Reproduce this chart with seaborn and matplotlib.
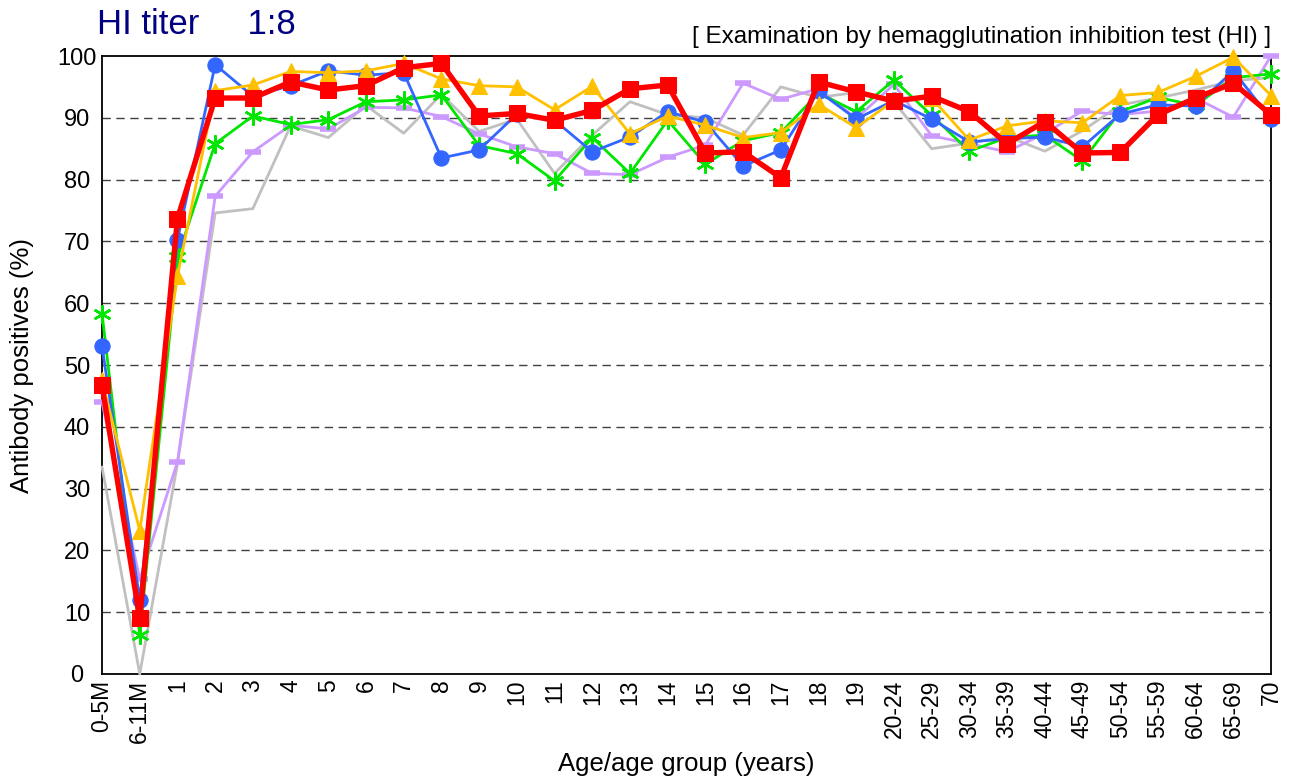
import numpy as np
import pandas as pd
import matplotlib
matplotlib.use('Agg')
import matplotlib.pyplot as plt
import seaborn as sns

# Age groups on the x axis
age_groups = ['0-5M', '6-11M', '1', '2', '3', '4', '5', '6', '7', '8', '9', '10',
              '11', '12', '13', '14', '15', '16', '17', '18', '19', '20-24', '25-29',
              '30-34', '35-39', '40-44', '45-49', '50-54', '55-59', '60-64', '65-69', '70']

# Antibody positive rates (%) per season
gray_vals = [33.5, 0, 34, 74.6, 75.3, 88.7, 86.8, 92.0, 87.5, 93.8, 87.8, 89.8,
             81.0, 87.2, 92.6, 90.5, 90.0, 87.2, 95.0, 93.3, 94.1, 92.6, 85.0,
             85.9, 87.0, 84.6, 87.9, 92.1, 93.2, 94.5, 96.0, 96.5]
lavender_vals = [44.0, 15.3, 34.3, 77.3, 84.5, 88.8, 88.2, 91.7, 91.6, 90.2, 87.4, 85.3,
                 84.2, 81.0, 80.8, 83.6, 85.6, 95.6, 93.0, 94.7, 89.9, 95.4, 87.1,
                 85.8, 84.5, 87.5, 91.1, 90.5, 91.1, 93.2, 90.1, 100.0]
green_vals = [58.3, 6.3, 67.4, 85.8, 90.3, 88.9, 89.7, 92.6, 92.9, 93.7, 85.5, 84.2,
              79.8, 86.8, 81.0, 89.6, 82.5, 86.3, 87.6, 94.0, 91.0, 96.1, 90.4,
              84.6, 86.8, 87.2, 83.0, 91.0, 93.3, 92.0, 96.5, 97.1]
blue_vals = [53.0, 12.0, 70.2, 98.6, 93.5, 95.2, 97.6, 96.9, 97.3, 83.5, 84.8, 90.6,
             89.6, 84.5, 86.9, 91.0, 89.3, 82.2, 84.8, 94.3, 89.8, 92.8, 89.8,
             86.1, 86.6, 86.9, 85.3, 90.6, 92.1, 91.9, 97.6, 89.8]
orange_vals = [47.5, 23.2, 64.4, 94.4, 95.3, 97.5, 97.3, 97.6, 98.8, 96.3, 95.2, 95.0,
               91.3, 95.1, 87.4, 90.3, 88.8, 86.8, 87.6, 92.2, 88.4, 92.8, 93.2,
               86.4, 88.7, 89.5, 89.2, 93.6, 94.1, 96.7, 99.8, 93.6]
red_vals = [46.7, 9.0, 73.7, 93.2, 93.2, 95.8, 94.5, 95.2, 98.1, 98.8, 90.3, 90.7,
            89.6, 91.2, 94.7, 95.3, 84.3, 84.5, 80.3, 95.8, 94.2, 92.7, 93.5,
            91.0, 85.8, 89.4, 84.3, 84.4, 90.5, 93.2, 95.6, 90.5]

sns.set_style('white')
plt.rcParams['font.family'] = ['Liberation Sans', 'DejaVu Sans']
plt.rcParams['text.color'] = 'black'
plt.rcParams['xtick.color'] = 'black'
plt.rcParams['ytick.color'] = 'black'
plt.rcParams['axes.labelcolor'] = 'black'

fig = plt.figure(figsize=(12.9, 7.8), dpi=100)
ax = fig.add_axes([0.0791, 0.1359, 0.9062, 0.7923])

pos = np.arange(len(age_groups))

# (values, color, marker, markersize, linewidth, extra kwargs)
series = [
    (gray_vals, '#C0C0C0', None, 0, 2.0, {}),
    (lavender_vals, '#CC99FF', '_', 12, 2.0, {'markeredgewidth': 4}),
    (green_vals, '#00E600', (6, 2, 0), 13, 2.0, {'markeredgewidth': 1.8}),
    (blue_vals, '#3366FF', 'o', 11, 2.0, {}),
    (orange_vals, '#FFC000', '^', 12, 2.0, {}),
    (red_vals, '#FF0000', 's', 11.5, 3.9, {}),
]

for z, (vals, col, mk, ms, lw, extra) in enumerate(series):
    df = pd.DataFrame({'pos': pos, 'val': vals})
    kw = dict(color=col, linewidth=lw, zorder=3 + z, clip_on=False)
    if mk is not None:
        kw.update(marker=mk, markersize=ms, markeredgecolor=col, markerfacecolor=col)
        kw.update(extra)
    sns.lineplot(data=df, x='pos', y='val', ax=ax, **kw)

ax.set_xlim(0, len(age_groups) - 1)
ax.set_ylim(0, 100)
ax.set_yticks(range(0, 101, 10))
ax.set_xticks(pos)
ax.set_xticklabels(age_groups, rotation=90, fontsize=16.5)
ax.tick_params(axis='y', labelsize=17, length=0, pad=18)
ax.tick_params(axis='x', length=0, pad=4)
for lbl in ax.get_yticklabels():
    lbl.set_horizontalalignment('center')

for yv in range(10, 100, 10):
    ax.axhline(yv, color='#404040', linestyle=(0, (6, 4)), linewidth=1.0, zorder=1)

for sp in ax.spines.values():
    sp.set_color('black')
    sp.set_linewidth(1.3)
    sp.set_visible(True)

ax.set_xlabel('Age/age group (years)', fontsize=18.5)
ax.set_ylabel('Antibody positives (%)', fontsize=18.5)
ax.xaxis.set_label_coords(0.5, -0.126)
ax.yaxis.set_label_coords(-0.058, 0.5)

fig.text(0.075, 0.968, 'HI titer     1:8', fontsize=25, color='#000080',
         ha='left', va='center')
fig.text(0.985, 0.952, '[ Examination by hemagglutination inhibition test (HI) ]',
         fontsize=17.5, color='black', ha='right', va='center')

fig.savefig('out.png', dpi=100)
